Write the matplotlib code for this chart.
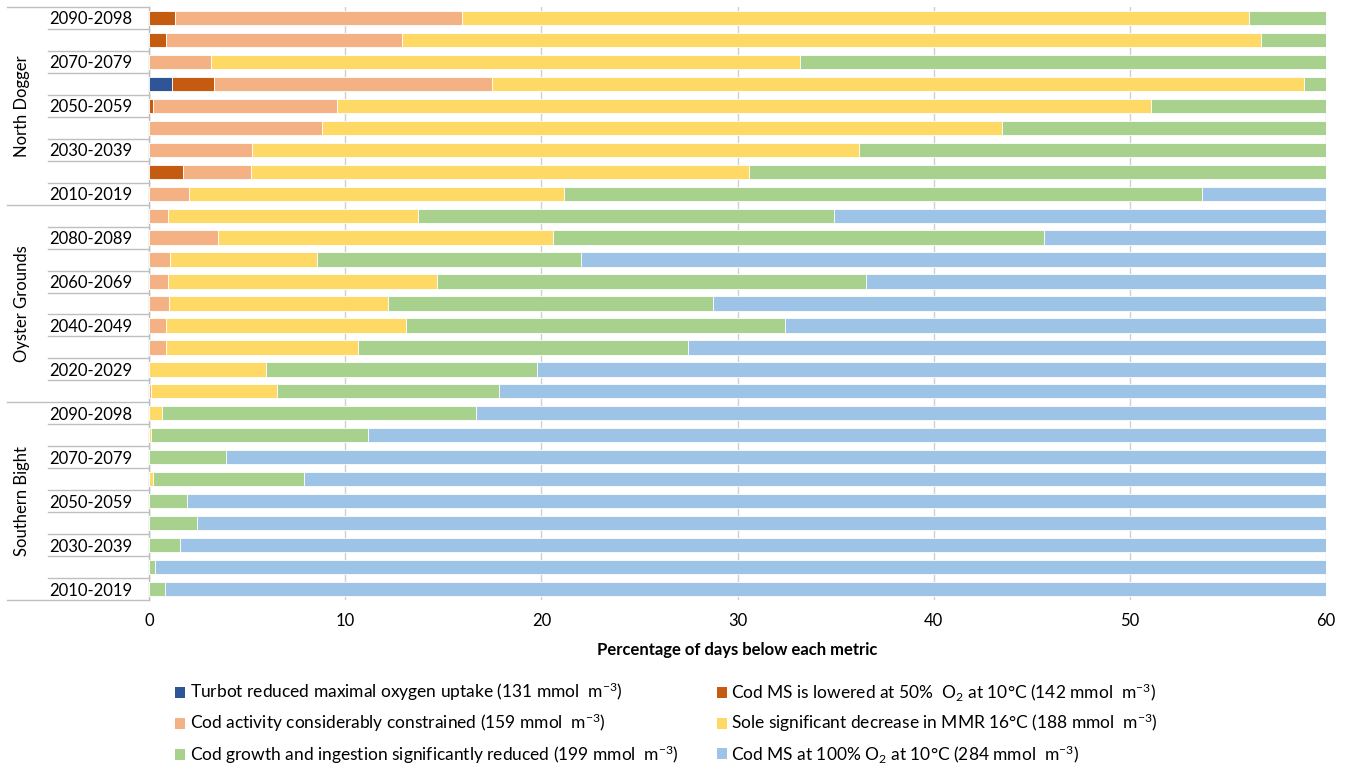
import numpy as np
import matplotlib
matplotlib.use("Agg")
import matplotlib.pyplot as plt
from matplotlib.patches import Patch

plt.rcParams['font.family'] = ['Lato', 'DejaVu Sans']

# ---- data (cumulative % of days below each metric), rows top -> bottom ----
regions = ["North Dogger", "Oyster Grounds", "Southern Bight"]
decades = ["2090-2098", "2080-2089", "2070-2079", "2060-2069", "2050-2059",
           "2040-2049", "2030-2039", "2020-2029", "2010-2019"]

turbot_131 = [0, 0, 0, 1.15, 0, 0, 0, 0, 0,
              0, 0, 0, 0, 0, 0, 0, 0, 0,
              0, 0, 0, 0, 0, 0, 0, 0, 0]
codms50_142 = [1.33, 0.87, 0, 3.33, 0.18, 0, 0, 1.73, 0,
               0, 0, 0, 0, 0, 0, 0, 0, 0,
               0, 0, 0, 0, 0, 0, 0, 0, 0]
codact_159 = [15.94, 12.91, 3.14, 17.5, 9.6, 8.83, 5.26, 5.21, 2.06,
              0.97, 3.52, 1.07, 0.98, 1.04, 0.87, 0.87, 0, 0.08,
              0, 0, 0, 0, 0, 0, 0, 0, 0]
sole_188 = [56.08, 56.67, 33.17, 58.9, 51.08, 43.49, 36.2, 30.6, 21.16,
            13.7, 20.62, 8.58, 14.69, 12.2, 13.08, 10.67, 5.97, 6.5,
            0.64, 0.09, 0, 0.18, 0, 0, 0, 0, 0]
growth_199 = [60, 60, 60, 60, 60, 60, 60, 60, 53.7,
              34.92, 45.64, 22.04, 36.56, 28.77, 32.42, 27.5, 19.76, 17.84,
              16.66, 11.18, 3.93, 7.92, 1.93, 2.46, 1.57, 0.29, 0.8]
codms100_284 = [60] * 27

labels = [
    r"Turbot reduced maximal oxygen uptake (131 mmol  m$^{-3}$)",
    r"Cod MS is lowered at 50%  O$_2$ at 10°C (142 mmol  m$^{-3}$)",
    r"Cod activity considerably constrained (159 mmol  m$^{-3}$)",
    r"Sole significant decrease in MMR 16°C (188 mmol  m$^{-3}$)",
    r"Cod growth and ingestion significantly reduced (199 mmol  m$^{-3}$)",
    r"Cod MS at 100% O$_2$ at 10°C (284 mmol  m$^{-3}$)",
]
colors = ["#2F5597", "#C55A11", "#F4B183", "#FFD966", "#A9D18E", "#9DC3E6"]

series = [turbot_131, codms50_142, codact_159, sole_188, growth_199, codms100_284]

# ---- figure ----
plt.rcParams['mathtext.default'] = 'regular'
fig = plt.figure(figsize=(13.49, 7.63), dpi=100)
W, H = 1349, 763
ax = fig.add_axes([149 / W, 1 - 600 / H, 1177 / W, 593 / H])

n = len(turbot_131)
y = np.arange(n)
cum = np.array(series, dtype=float)
left = np.zeros(n)
for k in range(len(series)):
    width = cum[k] - left
    width = np.clip(width, 0, None)
    ax.barh(y, width, left=left, height=0.65, color=colors[k],
            edgecolor="white", linewidth=0.6, zorder=3)
    left = left + width

ax.set_xlim(0, 60)
ax.set_ylim(n - 0.5, -0.5)
ax.set_xticks(np.arange(0, 61, 10))
ax.tick_params(axis='x', length=0, labelsize=12, pad=9, colors="#000000")
ax.grid(axis='x', color="#D0D0D0", linewidth=1, zorder=0)
ax.set_axisbelow(True)

ticklabels = []
for r in range(len(regions)):
    for d, dec in enumerate(decades):
        idx = r * len(decades) + d
        ticklabels.append(dec if idx % 2 == 0 else "")
ax.set_yticks(y)
ax.set_yticklabels(ticklabels, fontsize=12)
ax.tick_params(axis='y', length=0, pad=12)

for s in ["top", "right", "bottom"]:
    ax.spines[s].set_visible(False)
ax.spines["left"].set_color("#BFBFBF")
ax.spines["left"].set_linewidth(1)

tr = ax.get_yaxis_transform()
x_dec = (48 - 149) / 1177
x_grp = (7 - 149) / 1177
for b in np.arange(0.5, n - 1, 1.0):
    if (b + 0.5) % len(decades) == 0:
        continue
    ax.plot([x_dec, 0], [b, b], color="#BFBFBF", lw=1, transform=tr, clip_on=False)
for b in np.arange(-0.5, n, len(decades)):
    ax.plot([x_grp, 0], [b, b], color="#BFBFBF", lw=1, transform=tr, clip_on=False)

x_lab = (22 - 149) / 1177
for r, name in enumerate(regions):
    yc = r * len(decades) + (len(decades) - 1) / 2
    ax.text(x_lab, yc, name, transform=tr, rotation=90, ha="center", va="center",
            fontsize=12)

ax.set_xlabel("Percentage of days below each metric", fontsize=12,
              fontweight="bold", labelpad=10)

handles = [Patch(facecolor=c, edgecolor="none") for c in colors]
order = [0, 2, 4, 1, 3, 5]
fig.legend([handles[i] for i in order], [labels[i] for i in order],
           loc="upper left", bbox_to_anchor=(175 / W, 1 - 681 / H),
           ncol=2, frameon=False, fontsize=12.5, handlelength=0.6,
           handleheight=0.6, handletextpad=0.25, columnspacing=2.2,
           labelspacing=0.5, borderaxespad=0, borderpad=0)

fig.savefig("out.png", dpi=100)
